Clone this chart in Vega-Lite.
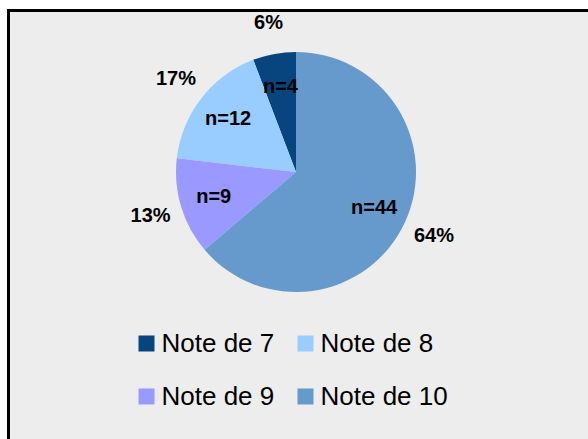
{
  "$schema": "https://vega.github.io/schema/vega-lite/v6.json",
  "width": 588,
  "height": 439,
  "autosize": {"type": "fit", "contains": "padding"},
  "padding": {"left": 8.5, "top": 10.5, "right": -8, "bottom": -8},
  "background": "white",
  "view": {"fill": "#EDEDED", "stroke": "black", "strokeWidth": 3},
  "config": {
    "view": {"fill": "#EDEDED", "stroke": "black", "strokeWidth": 3},
    "font": "Liberation Sans"
  },
  "data": {
    "values": [
      {"note": 7, "legende": "Note de 7", "n": 4, "n_label": "n=4", "pct": "6%"},
      {"note": 8, "legende": "Note de 8", "n": 12, "n_label": "n=12", "pct": "17%"},
      {"note": 9, "legende": "Note de 9", "n": 9, "n_label": "n=9", "pct": "13%"},
      {"note": 10, "legende": "Note de 10", "n": 44, "n_label": "n=44", "pct": "64%"}
    ]
  },
  "encoding": {
    "theta": {"field": "n", "type": "quantitative", "stack": true},
    "order": {"field": "note", "type": "quantitative", "sort": "descending"}
  },
  "layer": [
    {
      "mark": {"type": "arc", "outerRadius": 120, "x": 287.5, "y": 161.5},
      "encoding": {
        "color": {
          "field": "legende",
          "type": "nominal",
          "scale": {
            "domain": ["Note de 7", "Note de 8", "Note de 9", "Note de 10"],
            "range": ["#08457E", "#99CCFF", "#9999FF", "#6699CC"]
          },
          "legend": {
            "title": null,
            "orient": "none",
            "legendX": 125,
            "legendY": 320,
            "direction": "horizontal",
            "columns": 2,
            "padding": 0,
            "symbolType": "square",
            "symbolSize": 256,
            "symbolStrokeWidth": 0,
            "labelFont": "Liberation Sans",
            "labelFontSize": 26,
            "labelColor": "black",
            "labelOffset": 2,
            "columnPadding": 18,
            "rowPadding": 27,
            "labelLimit": 300
          }
        }
      }
    },
    {
      "mark": {"type": "text", "radius": 86, "x": 287.5, "y": 161.5, "font": "Liberation Sans", "fontWeight": "bold", "fontSize": 20, "color": "black", "align": "center", "baseline": "middle"},
      "encoding": {
        "detail": {"field": "legende", "type": "nominal"},
        "text": {"field": "n_label", "type": "nominal"}
      }
    },
    {
      "mark": {"type": "text", "radius": 152, "x": 287.5, "y": 161.5, "font": "Liberation Sans", "fontWeight": "bold", "fontSize": 20, "color": "black", "align": "center", "baseline": "middle"},
      "encoding": {
        "detail": {"field": "legende", "type": "nominal"},
        "text": {"field": "pct", "type": "nominal"}
      }
    }
  ]
}
